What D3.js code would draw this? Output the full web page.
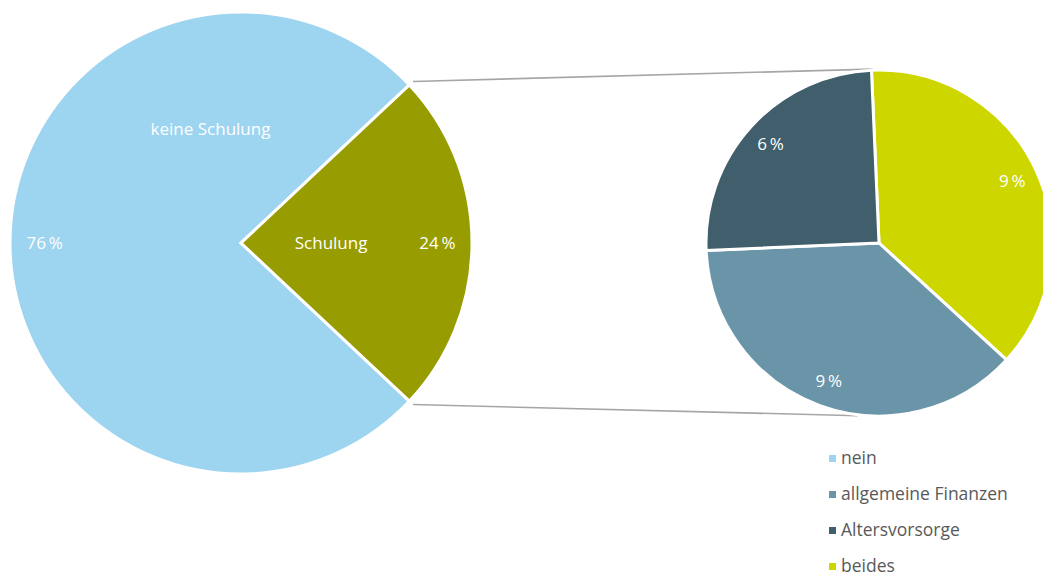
<!DOCTYPE html>
<html>
<head>
<meta charset="utf-8">
<script src="https://cdn.jsdelivr.net/npm/d3@7"></script>
<style>
  body { margin: 0; background: #fff; }
  text { font-family: "Open Sans", sans-serif; }
</style>
</head>
<body>
<svg id="chart" width="1043" height="576"></svg>
<script>
// main pie
var mainCategories = ["keine Schulung", "Schulung"];
var mainValues = [76, 24];
var mainColors = ["#9dd4f0", "#979c00"];

// secondary pie (breakdown of "Schulung")
var subCategories = ["beides", "allgemeine Finanzen", "Altersvorsorge"];
var subValues = [9, 9, 6];
var subColors = ["#ced600", "#6a94a8", "#415e6c"];

// legend
var legendLabels = ["nein", "allgemeine Finanzen", "Altersvorsorge", "beides"];
var legendColors = ["#9dd4f0", "#6a94a8", "#415e6c", "#ced600"];

var svg = d3.select("#chart");

var bigC = { x: 241, y: 243, r: 231 };
var smallC = { x: 879, y: 243, r: 173 };

var deg = Math.PI / 180;

/*
 * main pie: "Schulung" slice centred on the right
 */
var schulungAngle = mainValues[1] / d3.sum(mainValues) * 2 * Math.PI;
var mainStart = 90 * deg + schulungAngle / 2;

var mainPie = d3.pie()
  .sort(null)
  .startAngle(mainStart)
  .endAngle(mainStart + 2 * Math.PI);

var mainArcs = mainPie(mainValues);

var arcBig = d3.arc().innerRadius(0).outerRadius(bigC.r);

var gBig = svg.append("g")
  .attr("transform", "translate(" + bigC.x + "," + bigC.y + ")");

gBig.selectAll("path")
  .data(mainArcs)
  .enter().append("path")
  .attr("d", arcBig)
  .attr("fill", function(d, i) { return mainColors[i]; })
  .attr("stroke", "#fff")
  .attr("stroke-width", 3)
  .attr("stroke-linejoin", "miter");

/*
 * secondary pie
 */
var subPie = d3.pie()
  .sort(null)
  .startAngle(-2.5 * deg)
  .endAngle(357.5 * deg);

var subArcs = subPie(subValues);
var arcSmall = d3.arc().innerRadius(0).outerRadius(smallC.r);

// connector lines (drawn first, under the pies)
function polar(c, a, r) {
  return [c.x + r * Math.sin(a), c.y - r * Math.cos(a)];
}
var schulungArc = mainArcs[1];
var lines = [
  [polar(bigC, schulungArc.startAngle, bigC.r + 5), polar(smallC, -2 * deg, smallC.r + 1)],
  [polar(bigC, schulungArc.endAngle, bigC.r + 5), polar(smallC, 187 * deg, smallC.r + 1)]
];
svg.selectAll("line.connector")
  .data(lines)
  .enter().append("line")
  .attr("class", "connector")
  .attr("x1", function(d) { return d[0][0]; })
  .attr("y1", function(d) { return d[0][1]; })
  .attr("x2", function(d) { return d[1][0]; })
  .attr("y2", function(d) { return d[1][1]; })
  .attr("stroke", "#a6a6a6")
  .attr("stroke-width", 1.6);

var gSmall = svg.append("g")
  .attr("transform", "translate(" + smallC.x + "," + smallC.y + ")");

gSmall.selectAll("path")
  .data(subArcs)
  .enter().append("path")
  .attr("d", arcSmall)
  .attr("fill", function(d, i) { return subColors[i]; })
  .attr("stroke", "#fff")
  .attr("stroke-width", 3);

/*
 * labels
 */
function pct(v) { return v + "\u2009%"; }

var valueArcBig = d3.arc().innerRadius(bigC.r * 0.85).outerRadius(bigC.r * 0.85);
gBig.selectAll("text.value")
  .data(mainArcs)
  .enter().append("text")
  .attr("class", "value")
  .attr("transform", function(d) { return "translate(" + valueArcBig.centroid(d) + ")"; })
  .attr("text-anchor", "middle")
  .attr("dy", "0.35em")
  .attr("fill", "#fff")
  .style("font-size", "17px")
  .text(function(d) { return pct(d.data); });

// category labels, placed where the original puts them
var catPlace = [
  { a: -15 * deg, r: 0.51 },
  { a: 90 * deg, r: 0.39 }
];
gBig.selectAll("text.cat")
  .data(mainArcs)
  .enter().append("text")
  .attr("class", "cat")
  .attr("x", function(d, i) { return Math.sin(catPlace[i].a) * bigC.r * catPlace[i].r; })
  .attr("y", function(d, i) { return -Math.cos(catPlace[i].a) * bigC.r * catPlace[i].r; })
  .attr("text-anchor", "middle")
  .attr("dy", "0.35em")
  .attr("fill", "#fff")
  .style("font-size", "17px")
  .text(function(d, i) { return mainCategories[i]; });

var valueArcSmall = d3.arc().innerRadius(smallC.r * 0.85).outerRadius(smallC.r * 0.85);
gSmall.selectAll("text.value")
  .data(subArcs)
  .enter().append("text")
  .attr("class", "value")
  .attr("transform", function(d) { return "translate(" + valueArcSmall.centroid(d) + ")"; })
  .attr("text-anchor", "middle")
  .attr("dy", "0.35em")
  .attr("fill", "#fff")
  .style("font-size", "17px")
  .text(function(d) { return pct(d.data); });

/*
 * legend
 */
var legendY = d3.scalePoint()
  .domain(legendLabels)
  .range([458, 566]);

var legend = svg.append("g");
var items = legend.selectAll("g")
  .data(legendLabels)
  .enter().append("g")
  .attr("transform", function(d) { return "translate(829," + legendY(d) + ")"; });

items.append("rect")
  .attr("x", 0)
  .attr("y", -3)
  .attr("width", 7)
  .attr("height", 7)
  .attr("fill", function(d, i) { return legendColors[i]; });

items.append("text")
  .attr("x", 12)
  .attr("dy", "0.35em")
  .attr("fill", "#595959")
  .style("font-size", "17.5px")
  .text(function(d) { return d; });
</script>
</body>
</html>
